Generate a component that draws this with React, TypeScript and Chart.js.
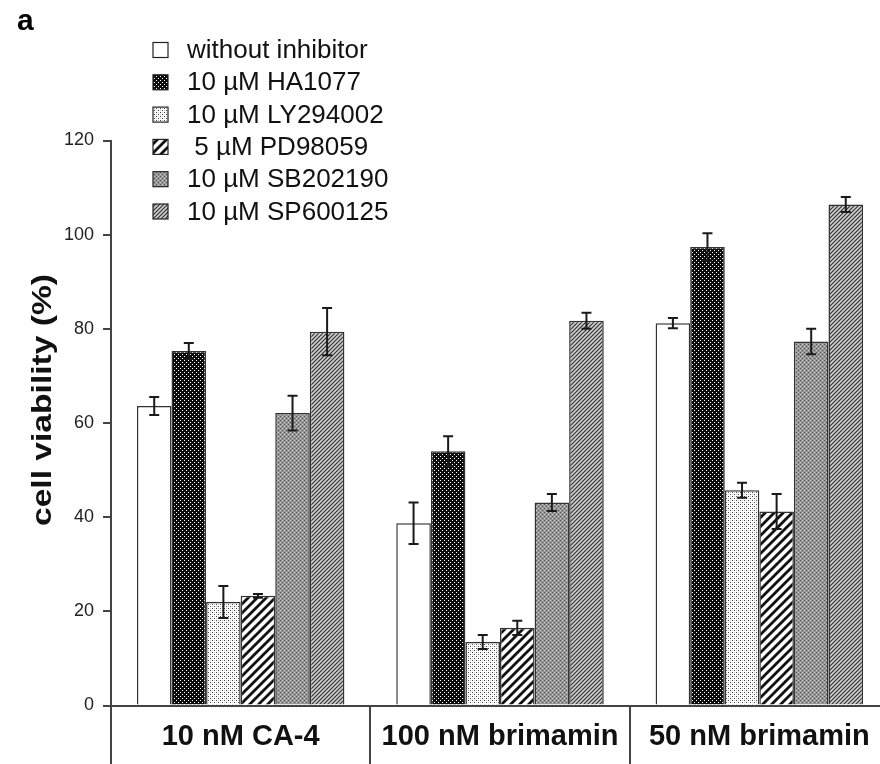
import React, { useEffect, useRef } from "react";
import { Chart, registerables } from "chart.js";

Chart.register(...registerables);

const categories = ["10 nM CA-4", "100 nM brimamin", "50 nM brimamin"];
const seriesLabels = [
  "without inhibitor",
  "10 µM HA1077",
  "10 µM LY294002",
  " 5 µM PD98059",
  "10 µM SB202190",
  "10 µM SP600125",
];
const withoutInhibitor = [63.6, 38.7, 81.2];
const ha1077 = [75.3, 54.0, 97.4];
const ly294002 = [22.0, 13.5, 45.7];
const pd98059 = [23.3, 16.5, 41.2];
const sb202190 = [62.1, 43.1, 77.3];
const sp600125 = [79.4, 81.7, 106.4];

const errWithout = [1.9, 4.4, 1.1];
const errHA1077 = [1.7, 3.2, 2.9];
const errLY294002 = [3.4, 1.5, 1.6];
const errPD98059 = [0.4, 1.5, 3.7];
const errSB202190 = [3.7, 1.8, 2.7];
const errSP600125 = [5.0, 1.7, 1.6];

const yMin = 0;
const yMax = 120;
const yStep = 20;
const panelLetter = "a";
const yTitle = "cell viability (%)";

const seriesValues = [withoutInhibitor, ha1077, ly294002, pd98059, sb202190, sp600125];
const seriesErrors = [errWithout, errHA1077, errLY294002, errPD98059, errSB202190, errSP600125];

const FONT = "Arial, 'Liberation Sans', sans-serif";

function makeTile(size: number, draw: (c: CanvasRenderingContext2D) => void): CanvasPattern | string {
  const cv = document.createElement("canvas");
  cv.width = size;
  cv.height = size;
  const c = cv.getContext("2d")!;
  draw(c);
  const p = c.createPattern(cv, "repeat");
  return p || "#888";
}

function dots(c: CanvasRenderingContext2D, bg: string, pts: [number, number, string][]) {
  c.fillStyle = bg;
  c.fillRect(0, 0, 4, 4);
  for (const [x, y, col] of pts) {
    c.fillStyle = col;
    c.fillRect(x, y, 1, 1);
  }
}

function diag(c: CanvasRenderingContext2D, s: number, bg: string, fg: string, lw: number) {
  c.fillStyle = bg;
  c.fillRect(0, 0, s, s);
  c.strokeStyle = fg;
  c.lineWidth = lw;
  c.beginPath();
  c.moveTo(-1, s + 1);
  c.lineTo(s + 1, -1);
  c.moveTo(-1, 1);
  c.lineTo(1, -1);
  c.moveTo(s - 1, s + 1);
  c.lineTo(s + 1, s - 1);
  c.stroke();
}

function makePatterns() {
  return [
    "#ffffff",
    makeTile(4, (c) => dots(c, "#0d0d0d", [[0, 0, "#ffffff"], [2, 2, "#ffffff"]])),
    makeTile(4, (c) => dots(c, "#ffffff", [[0, 0, "#444444"], [2, 2, "#444444"], [0, 2, "#cccccc"], [2, 0, "#cccccc"]])),
    makeTile(9, (c) => diag(c, 9, "#ffffff", "#111111", 2.8)),
    makeTile(4, (c) => dots(c, "#989898", [[0, 0, "#505050"], [2, 2, "#505050"], [0, 2, "#c4c4c4"], [2, 0, "#c4c4c4"]])),
    makeTile(4, (c) => diag(c, 4, "#d0d0d0", "#333333", 1.2)),
  ];
}

const errorBarPlugin = {
  id: "errorBars",
  afterDatasetsDraw(chart: any) {
    const ctx = chart.ctx;
    const ys = chart.scales.y;
    ctx.save();
    ctx.strokeStyle = "#1a1a1a";
    ctx.lineWidth = 2;
    chart.data.datasets.forEach((ds: any, i: number) => {
      const meta = chart.getDatasetMeta(i);
      meta.data.forEach((el: any, j: number) => {
        const v = ds.data[j];
        const e = seriesErrors[i][j];
        const yt = ys.getPixelForValue(v + e);
        const yb = ys.getPixelForValue(v - e);
        const x = el.x;
        const cap = 5;
        ctx.beginPath();
        ctx.moveTo(x, yt);
        ctx.lineTo(x, yb);
        ctx.moveTo(x - cap, yt);
        ctx.lineTo(x + cap, yt);
        ctx.moveTo(x - cap, yb);
        ctx.lineTo(x + cap, yb);
        ctx.stroke();
      });
    });
    ctx.restore();
  },
};

const textPlugin = {
  id: "customText",
  afterDraw(chart: any) {
    const ctx = chart.ctx;
    ctx.save();
    // panel letter
    ctx.font = `bold 30px ${FONT}`;
    ctx.fillStyle = "#000";
    ctx.textBaseline = "middle";
    ctx.textAlign = "left";
    ctx.fillText(panelLetter, 17, 22);
    // y axis title (stretched along its reading direction like the original)
    ctx.save();
    ctx.translate(43, 400);
    ctx.rotate(-Math.PI / 2);
    ctx.scale(1.2, 1);
    ctx.font = `bold 28px ${FONT}`;
    ctx.textAlign = "center";
    ctx.textBaseline = "middle";
    ctx.fillStyle = "#111";
    ctx.fillText(yTitle, 0, 0);
    ctx.restore();
    // legend
    ctx.font = `26px ${FONT}`;
    ctx.textAlign = "left";
    ctx.textBaseline = "middle";
    chart.data.datasets.forEach((ds: any, i: number) => {
      const y = 50 + i * 32.3;
      ctx.fillStyle = ds.backgroundColor;
      ctx.fillRect(153, y - 7.5, 15, 15);
      ctx.strokeStyle = "#222";
      ctx.lineWidth = 1.2;
      ctx.strokeRect(153, y - 7.5, 15, 15);
      ctx.fillStyle = "#111";
      ctx.fillText(ds.label, 187, y + 1);
    });
    ctx.restore();
  },
};

export default function App() {
  const ref = useRef<HTMLCanvasElement>(null);
  useEffect(() => {
    if (!ref.current) return;
    const patterns = makePatterns();
    const chart = new Chart(ref.current, {
      type: "bar",
      data: {
        labels: categories,
        datasets: seriesValues.map((vals, i) => ({
          label: seriesLabels[i],
          data: vals,
          backgroundColor: patterns[i] as any,
          borderColor: "#333",
          borderWidth: 1.5,
          borderSkipped: "bottom",
          categoryPercentage: 0.8,
          barPercentage: 1.0,
        })),
      },
      options: {
        animation: false,
        responsive: false,
        devicePixelRatio: 1,
        layout: { padding: { top: 140.5, left: 0, right: 0, bottom: 0 } },
        plugins: {
          legend: { display: false },
          tooltip: { enabled: false },
          title: { display: false },
        },
        scales: {
          x: {
            type: "category",
            offset: true,
            grid: {
              offset: true,
              drawOnChartArea: false,
              drawTicks: true,
              tickLength: 60,
              color: "#444",
              lineWidth: 2,
            },
            border: { display: true, color: "#444", width: 2 },
            ticks: {
              font: { family: FONT, size: 29, weight: "bold" },
              color: "#111",
              padding: -46,
              maxRotation: 0,
              autoSkip: false,
            },
            afterFit: (s: any) => {
              s.height = 58.5;
            },
          },
          y: {
            min: yMin,
            max: yMax,
            grid: {
              drawOnChartArea: false,
              drawTicks: true,
              tickLength: 8,
              color: "#444",
              lineWidth: 2,
            },
            border: { display: true, color: "#444", width: 2 },
            ticks: {
              stepSize: yStep,
              font: { family: FONT, size: 18 },
              color: "#222",
              padding: 9,
            },
            title: { display: false },
            afterFit: (s: any) => {
              s.width = 111;
            },
          },
        },
      },
      plugins: [errorBarPlugin, textPlugin],
    });
    return () => chart.destroy();
  }, []);
  return (
    <div style={{ position: "fixed", left: 0, top: 0, width: 880, height: 764, overflow: "hidden", background: "#fff" }}>
      <canvas ref={ref} width={889} height={764} style={{ display: "block" }} />
    </div>
  );
}
